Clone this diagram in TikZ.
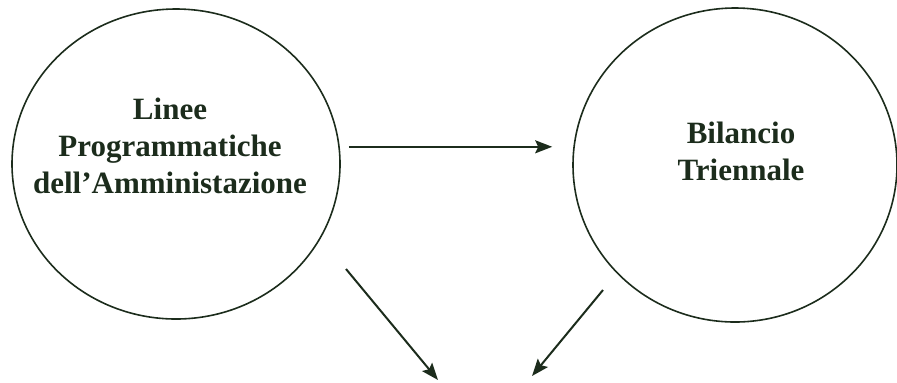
\documentclass[tikz,border=0pt]{standalone}
\usepackage{fontspec}
\setmainfont{Liberation Serif}
\usetikzlibrary{shapes.geometric,arrows.meta}
\definecolor{inchiostro}{RGB}{28,44,28}

\begin{document}
\begin{tikzpicture}[x=0.5pt, y=-0.5pt, >={Stealth[length=8.5pt,width=6.5pt,inset=1.5pt]}, color=inchiostro]
	
	% Stili per cerchi, testi e frecce
	\tikzset{
		cerchio/.style={
			draw,
			ellipse,
			line width=0.8pt,
			inner sep=0pt
		},
		testo/.style={
			align=center,
			font=\bfseries\fontsize{15.5}{18.5}\selectfont
		},
		freccia/.style={
			->,
			line width=1pt
		}
	}
	
	\useasboundingbox (0,0) rectangle (897,382);
	
	% Cerchi
	\node[cerchio, minimum width=164pt, minimum height=155pt] (linee) at (176,164) {};
	\node[cerchio, minimum width=162pt, minimum height=157pt] (bilancio) at (735,165) {};
	
	% Testi nei cerchi
	\node[testo] (lineetxt) at (170,146) {Linee\\Programmatiche\\dell'Amministazione};
	\node[testo] (bilanciotxt) at (741,151) {Bilancio\\Triennale};
	
	% Estremi delle frecce in basso
	\coordinate (da1) at (346,269);
	\coordinate (a1)  at (438,380);
	\coordinate (da2) at (603,290);
	\coordinate (a2)  at (532,376);
	
	% Frecce
	\draw[freccia, shorten <=4.5pt, shorten >=10pt] (linee.6) -- (linee.6 -| bilancio.west);
	\draw[freccia] (da1) -- (a1);
	\draw[freccia] (da2) -- (a2);
	
\end{tikzpicture}
\end{document}
